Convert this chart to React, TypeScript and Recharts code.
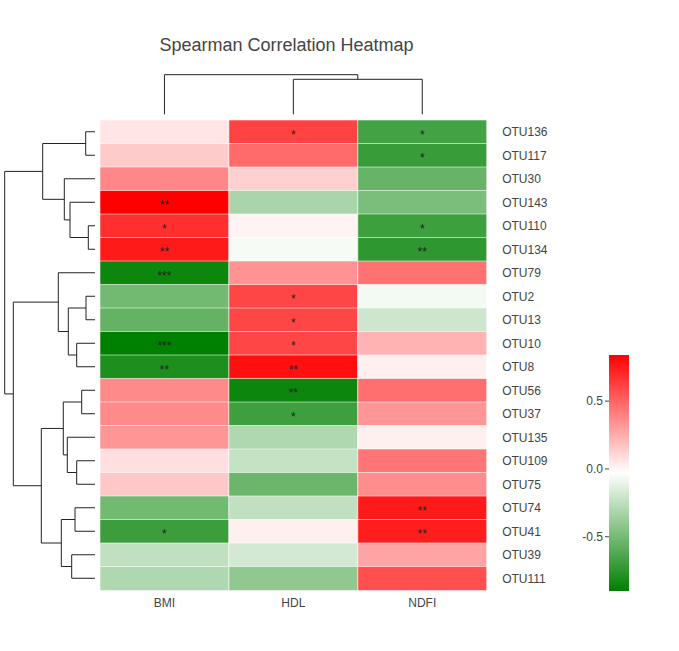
import React from 'react';
import { BarChart, Bar, Cell, LabelList, XAxis, YAxis, ScatterChart, Scatter } from 'recharts';

const FONT = '"Liberation Sans", Arial, sans-serif';

// heatmap rows (top to bottom) and columns
const otus = ['OTU136', 'OTU117', 'OTU30', 'OTU143', 'OTU110', 'OTU134', 'OTU79', 'OTU2', 'OTU13', 'OTU10',
    'OTU8', 'OTU56', 'OTU37', 'OTU135', 'OTU109', 'OTU75', 'OTU74', 'OTU41', 'OTU39', 'OTU111'];
const traits = ['BMI', 'HDL', 'NDFI'];

// spearman rho per trait, in row order
const bmiRho = [0.06, 0.15, 0.38, 0.84, 0.68, 0.75, -0.86, -0.51, -0.56, -0.90, -0.80, 0.37, 0.37, 0.33, 0.08, 0.16, -0.51, -0.70, -0.24, -0.30];
const hdlRho = [0.61, 0.48, 0.13, -0.32, 0.01, -0.06, 0.34, 0.60, 0.60, 0.60, 0.79, -0.86, -0.69, -0.30, -0.23, -0.53, -0.24, 0.02, -0.18, -0.41];
const ndfiRho = [-0.67, -0.71, -0.55, -0.48, -0.69, -0.74, 0.45, -0.07, -0.20, 0.23, 0.02, 0.46, 0.33, 0.02, 0.44, 0.36, 0.75, 0.74, 0.28, 0.57];

// significance marks
const bmiSig = ['', '', '', '**', '*', '**', '***', '', '', '***', '**', '', '', '', '', '', '', '*', '', ''];
const hdlSig = ['*', '', '', '', '', '', '', '*', '*', '*', '**', '**', '*', '', '', '', '', '', '', ''];
const ndfiSig = ['*', '*', '', '', '*', '**', '', '', '', '', '', '', '', '', '', '', '**', '**', '', ''];

// row dendrogram: [childA, childB, height]; children are leaf names or mN
const rowMerges: [string, string, number][] = [
    ['OTU136', 'OTU117', 9.3],
    ['OTU110', 'OTU134', 6.7],
    ['OTU143', 'm1', 25],
    ['OTU30', 'm2', 30.7],
    ['m0', 'm3', 52.3],
    ['OTU2', 'OTU13', 9],
    ['OTU10', 'OTU8', 18.3],
    ['m5', 'm6', 26.7],
    ['OTU79', 'm7', 36.7],
    ['OTU56', 'OTU37', 13.3],
    ['OTU109', 'OTU75', 18.3],
    ['OTU135', 'm10', 27.7],
    ['m9', 'm11', 31.7],
    ['OTU74', 'OTU41', 20],
    ['OTU39', 'OTU111', 23.3],
    ['m13', 'm14', 33.7],
    ['m12', 'm15', 53.7],
    ['m8', 'm16', 81.7],
    ['m4', 'm17', 90.3],
];
const rowTreeMax = 90.3;

// column dendrogram
const colMerges: [string, string, number][] = [
    ['HDL', 'NDFI', 35],
    ['BMI', 'm0', 39.6],
];
const colTreeMax = 39.6;

const zMin = -0.9;
const zMax = 0.84;
const cbTicks = [-0.5, 0, 0.5];

const rhoByTrait = [bmiRho, hdlRho, ndfiRho];
const sigByTrait = [bmiSig, hdlSig, ndfiSig];

const zMid = (zMin + zMax) / 2;
const colorOf = (v: number) => {
    if (v >= zMid) {
        const t = Math.min(1, (v - zMid) / (zMax - zMid));
        const c = Math.round(255 * (1 - t));
        return `rgb(255,${c},${c})`;
    }
    const t = Math.min(1, (zMid - v) / (zMid - zMin));
    const rb = Math.round(255 * (1 - t));
    const g = Math.round(255 - 127 * t);
    return `rgb(${rb},${g},${rb})`;
};

// build U-shaped link segments from merge list
const buildLinks = (leaves: string[], merges: [string, string, number][]) => {
    const pos: Record<string, { p: number; h: number }> = {};
    leaves.forEach((l, i) => { pos[l] = { p: i + 0.5, h: 0 }; });
    return merges.map(([a, b, h], i) => {
        const A = pos[a];
        const B = pos[b];
        pos[`m${i}`] = { p: (A.p + B.p) / 2, h };
        return [
            { p: A.p, h: A.h },
            { p: A.p, h },
            { p: B.p, h },
            { p: B.p, h: B.h },
        ];
    });
};

const rowLinks = buildLinks(otus, rowMerges).map(seg => seg.map(s => ({ x: s.h, y: s.p })));
const colLinks = buildLinks(traits, colMerges).map(seg => seg.map(s => ({ x: s.p, y: s.h })));

const rows = otus.map((otu, i) => ({
    otu,
    w0: 1, w1: 1, w2: 1,
    s0: bmiSig[i], s1: hdlSig[i], s2: ndfiSig[i],
}));

const StarLabel = (props: any) => {
    const { x, y, width, height, value } = props;
    if (!value) return null;
    return (
        <text x={x + width / 2} y={y + height / 2 + 6.5} textAnchor="middle" fontSize={12} fontFamily={FONT} fill="#222">
            {value}
        </text>
    );
};

const NoDot = () => <g />;
const layer: React.CSSProperties = { position: 'absolute', left: 0, top: 0 };
const tickStyle = { fill: '#444', fontSize: 12, fontFamily: FONT };

export default function App() {
    return (
        <div style={{ position: 'absolute', left: 0, top: 0, width: 679, height: 651, background: '#fff' }}>
            <div style={{ ...layer, top: 36, width: 573, textAlign: 'center', fontFamily: FONT, fontSize: 18, lineHeight: '18px', color: '#444' }}>
                Spearman Correlation Heatmap
            </div>

            <div style={layer}>
                <BarChart width={679} height={651} layout="vertical" data={rows}
                    margin={{ top: 120, right: 0, bottom: 31, left: 100 }} barCategoryGap={0}>
                    <XAxis type="number" domain={[0, 3]} ticks={[0.5, 1.5, 2.5]} interval={0}
                        tickFormatter={(v) => traits[Math.floor(v)]} height={30}
                        tickSize={0} tickMargin={8} axisLine={false} tick={tickStyle} />
                    <YAxis type="category" dataKey="otu" orientation="right" width={192.3} interval={0}
                        tickSize={0} tickMargin={15.5} axisLine={false} tick={tickStyle} />
                    {traits.map((t, ci) => (
                        <Bar key={t} dataKey={`w${ci}`} stackId="heat" isAnimationActive={false}>
                            {rows.map((r, ri) => (
                                <Cell key={r.otu} fill={colorOf(rhoByTrait[ci][ri])}
                                    stroke="#ffffff" strokeOpacity={0.55} strokeWidth={1} />
                            ))}
                            <LabelList dataKey={`s${ci}`} content={StarLabel} />
                        </Bar>
                    ))}
                </BarChart>
            </div>

            <div style={layer}>
                <ScatterChart width={679} height={651} margin={{ top: 120, right: 584, bottom: 61, left: 4.7 }}>
                    <XAxis type="number" dataKey="x" domain={[0, rowTreeMax]} reversed hide />
                    <YAxis type="number" dataKey="y" domain={[0, otus.length]} reversed hide />
                    {rowLinks.map((seg, i) => (
                        <Scatter key={i} data={seg} line={{ stroke: '#222', strokeWidth: 1 }} lineType="joint"
                            shape={NoDot} isAnimationActive={false} />
                    ))}
                </ScatterChart>
            </div>

            <div style={layer}>
                <ScatterChart width={679} height={651} margin={{ top: 74.7, right: 192.3, bottom: 536.7, left: 100 }}>
                    <XAxis type="number" dataKey="x" domain={[0, traits.length]} hide />
                    <YAxis type="number" dataKey="y" domain={[0, colTreeMax]} hide />
                    {colLinks.map((seg, i) => (
                        <Scatter key={i} data={seg} line={{ stroke: '#222', strokeWidth: 1 }} lineType="joint"
                            shape={NoDot} isAnimationActive={false} />
                    ))}
                </ScatterChart>
            </div>

            <div style={layer}>
                <BarChart width={679} height={651} data={[{ k: 'scale', r: [zMin, zMax] }]}
                    margin={{ top: 355, right: 50, bottom: 60, left: 569 }} barCategoryGap={0}>
                    <defs>
                        <linearGradient id="cbGrad" x1="0" y1="0" x2="0" y2="1">
                            <stop offset="0%" stopColor="rgb(255,0,0)" />
                            <stop offset="50%" stopColor="rgb(255,255,255)" />
                            <stop offset="100%" stopColor="rgb(0,128,0)" />
                        </linearGradient>
                    </defs>
                    <XAxis dataKey="k" hide />
                    <YAxis type="number" domain={[zMin, zMax]} ticks={cbTicks} width={40} allowDataOverflow
                        tickSize={4} tickMargin={2} axisLine={false} tickLine={{ stroke: '#444' }}
                        tickFormatter={(v) => Number(v).toFixed(1)} tick={tickStyle} />
                    <Bar dataKey="r" fill="url(#cbGrad)" isAnimationActive={false} />
                </BarChart>
            </div>
        </div>
    );
}
